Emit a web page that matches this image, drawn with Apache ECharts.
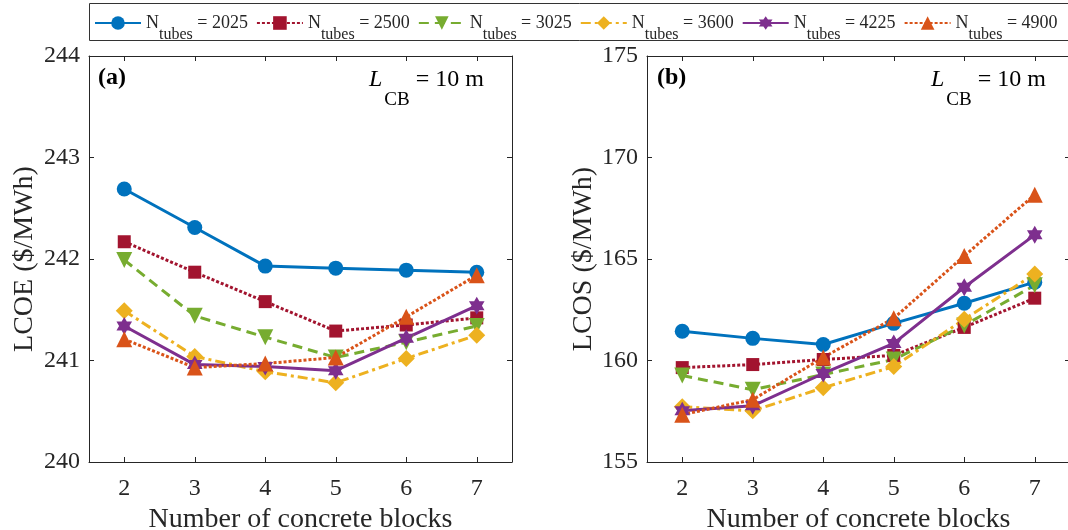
<!DOCTYPE html>
<html>
<head>
<meta charset="utf-8">
<script src="https://cdn.jsdelivr.net/npm/echarts@6/dist/echarts.min.js"></script>
<style>
html,body{margin:0;padding:0;background:#fff;}
#chart{width:1068px;height:530px;}
</style>
</head>
<body>
<div id="chart"></div>
<script>
// ---- data ----
const blocks = ['2', '3', '4', '5', '6', '7'];
const tubeCounts = ['2025', '2500', '3025', '3600', '4225', '4900'];

const lcoe2025 = [242.69, 242.31, 241.93, 241.91, 241.89, 241.87];
const lcoe2500 = [242.17, 241.87, 241.58, 241.29, 241.35, 241.42];
const lcoe3025 = [241.99, 241.44, 241.23, 241.03, 241.18, 241.34];
const lcoe3600 = [241.49, 241.04, 240.89, 240.78, 241.02, 241.25];
const lcoe4225 = [241.34, 240.96, 240.94, 240.90, 241.22, 241.54];
const lcoe4900 = [241.21, 240.93, 240.97, 241.03, 241.43, 241.84];

const lcos2025 = [161.44, 161.09, 160.79, 161.83, 162.82, 163.86];
const lcos2500 = [159.65, 159.80, 160.05, 160.25, 161.63, 163.07];
const lcos3025 = [159.26, 158.56, 159.31, 160.05, 161.73, 163.71];
const lcos3600 = [157.72, 157.52, 158.66, 159.70, 162.03, 164.26];
const lcos4225 = [157.52, 157.77, 159.36, 160.84, 163.61, 166.19];
const lcos4900 = [157.33, 158.07, 160.15, 162.08, 165.15, 168.17];

const lcoeTicks = [240, 241, 242, 243, 244];
const lcosTicks = [155, 160, 165, 170, 175];

// ---- styles ----
const FONT = 'Liberation Serif';
const AX = '#262626';
const hexagram = 'path://M100 0 L128.87 50 L186.6 50 L157.7 100 L186.6 150 L128.87 150 L100 200 L71.13 150 L13.4 150 L42.3 100 L13.4 50 L71.13 50 Z';
const styles = [
  {color: '#0072BD', type: 'solid', symbol: 'circle', size: 15, rotate: 0},
  {color: '#A2142F', type: [3, 2], symbol: 'rect', size: 13, rotate: 0},
  {color: '#77AC30', type: [10, 6], symbol: 'triangle', size: 16, rotate: 180},
  {color: '#EDB120', type: [10, 4, 3, 4], symbol: 'diamond', size: 17, rotate: 0},
  {color: '#7E2F8E', type: 'solid', symbol: hexagram, size: 18, rotate: 0},
  {color: '#D95319', type: [3, 2], symbol: 'triangle', size: 16, rotate: 0}
];
const lcoeSets = [lcoe2025, lcoe2500, lcoe3025, lcoe3600, lcoe4225, lcoe4900];
const lcosSets = [lcos2025, lcos2500, lcos3025, lcos3600, lcos4225, lcos4900];

function xAx(grid, pos, name) {
  return {
    type: 'category', gridIndex: grid, position: pos, data: blocks, boundaryGap: true,
    axisLine: {show: true, lineStyle: {color: AX, width: 1}},
    axisTick: {show: true, inside: true, length: 5, alignWithLabel: true, lineStyle: {color: AX}},
    axisLabel: {show: pos === 'bottom', color: AX, fontFamily: FONT, fontSize: 24, margin: 15},
    splitLine: {show: false},
    name: name || '', nameLocation: 'middle', nameGap: 36,
    nameTextStyle: {color: AX, fontFamily: FONT, fontSize: 28}
  };
}
function yAx(grid, pos, min, max, interval, name, gap) {
  return {
    type: 'value', gridIndex: grid, position: pos, min: min, max: max, interval: interval,
    axisLine: {show: true, lineStyle: {color: AX, width: 1}},
    axisTick: {show: true, inside: true, length: 5, lineStyle: {color: AX}},
    axisLabel: {show: pos === 'left', color: AX, fontFamily: FONT, fontSize: 24, margin: 9},
    splitLine: {show: false},
    name: name || '', nameLocation: 'middle', nameGap: gap || 0, nameRotate: 90,
    nameTextStyle: {color: AX, fontFamily: FONT, fontSize: 28}
  };
}

const series = [];
function addSeries(sets, xi, yi) {
  sets.forEach((d, i) => {
    const s = styles[i];
    series.push({
      name: tubeCounts[i], type: 'line', xAxisIndex: xi, yAxisIndex: yi,
      data: d, symbol: s.symbol, symbolSize: s.size, symbolRotate: s.rotate,
      symbolKeepAspect: true,
      lineStyle: {color: s.color, width: 3, type: s.type},
      itemStyle: {color: s.color, borderWidth: 0},
      emphasis: {disabled: true}, animation: false
    });
  });
}
addSeries(lcoeSets, 0, 0);
addSeries(lcosSets, 2, 2);

const subRich = {
  n: {fontFamily: FONT, fontSize: 18, color: AX, lineHeight: 40, verticalAlign: 'middle'},
  s: {fontFamily: FONT, fontSize: 16, color: AX, lineHeight: 18, verticalAlign: 'bottom'}
};
const lbRich = {
  l: {fontFamily: FONT, fontStyle: 'italic', fontSize: 24, color: '#000', lineHeight: 60, verticalAlign: 'middle', padding: [0, 2, 0, 0]},
  s: {fontFamily: FONT, fontSize: 19, color: '#000', lineHeight: 17, verticalAlign: 'bottom'},
  n: {fontFamily: FONT, fontSize: 24, color: '#000', lineHeight: 60, verticalAlign: 'middle'}
};

const chart = echarts.init(document.getElementById('chart'), null, {renderer: 'canvas'});
chart.setOption({
  backgroundColor: '#fff',
  animation: false,
  grid: [
    {left: 89, top: 56, width: 423, height: 406, outerBoundsMode: 'none', containLabel: false},
    {left: 647, top: 56, width: 423, height: 406, outerBoundsMode: 'none', containLabel: false}
  ],
  xAxis: [
    xAx(0, 'bottom', 'Number of concrete blocks'), xAx(0, 'top'),
    xAx(1, 'bottom', 'Number of concrete blocks'), xAx(1, 'top')
  ],
  yAxis: [
    yAx(0, 'left', lcoeTicks[0], lcoeTicks[lcoeTicks.length - 1], 1, 'LCOE ($/MWh)', 50),
    yAx(0, 'right', lcoeTicks[0], lcoeTicks[lcoeTicks.length - 1], 1),
    yAx(1, 'left', lcosTicks[0], lcosTicks[lcosTicks.length - 1], 5, 'LCOS ($/MWh)', 48),
    yAx(1, 'right', lcosTicks[0], lcosTicks[lcosTicks.length - 1], 5)
  ],
  legend: {
    left: 94, top: 14, width: 1100, padding: 0, itemWidth: 46, itemHeight: 17, itemGap: 8,
    data: tubeCounts, selectedMode: false,
    formatter: name => '{n|N}{s|tubes}{n| = ' + name + '}',
    textStyle: {rich: subRich, fontFamily: FONT, fontSize: 18, color: AX}
  },
  graphic: [
    {type: 'rect', shape: {x: 89.5, y: 3.5, width: 1000, height: 37}, style: {fill: 'none', stroke: '#333', lineWidth: 1}, z: 100, silent: true},
    {type: 'text', x: 98, y: 66, style: {text: '(a)', fontFamily: FONT, fontWeight: 'bold', fontSize: 24, fill: '#000'}, z: 100},
    {type: 'text', x: 657, y: 66, style: {text: '(b)', fontFamily: FONT, fontWeight: 'bold', fontSize: 24, fill: '#000'}, z: 100},
    {type: 'text', x: 369, y: 50, style: {text: '{l|L}{s|CB}{n| = 10 m}', rich: lbRich, fontFamily: FONT}, z: 100},
    {type: 'text', x: 931, y: 50, style: {text: '{l|L}{s|CB}{n| = 10 m}', rich: lbRich, fontFamily: FONT}, z: 100}
  ],
  series: series
});
</script>
</body>
</html>
